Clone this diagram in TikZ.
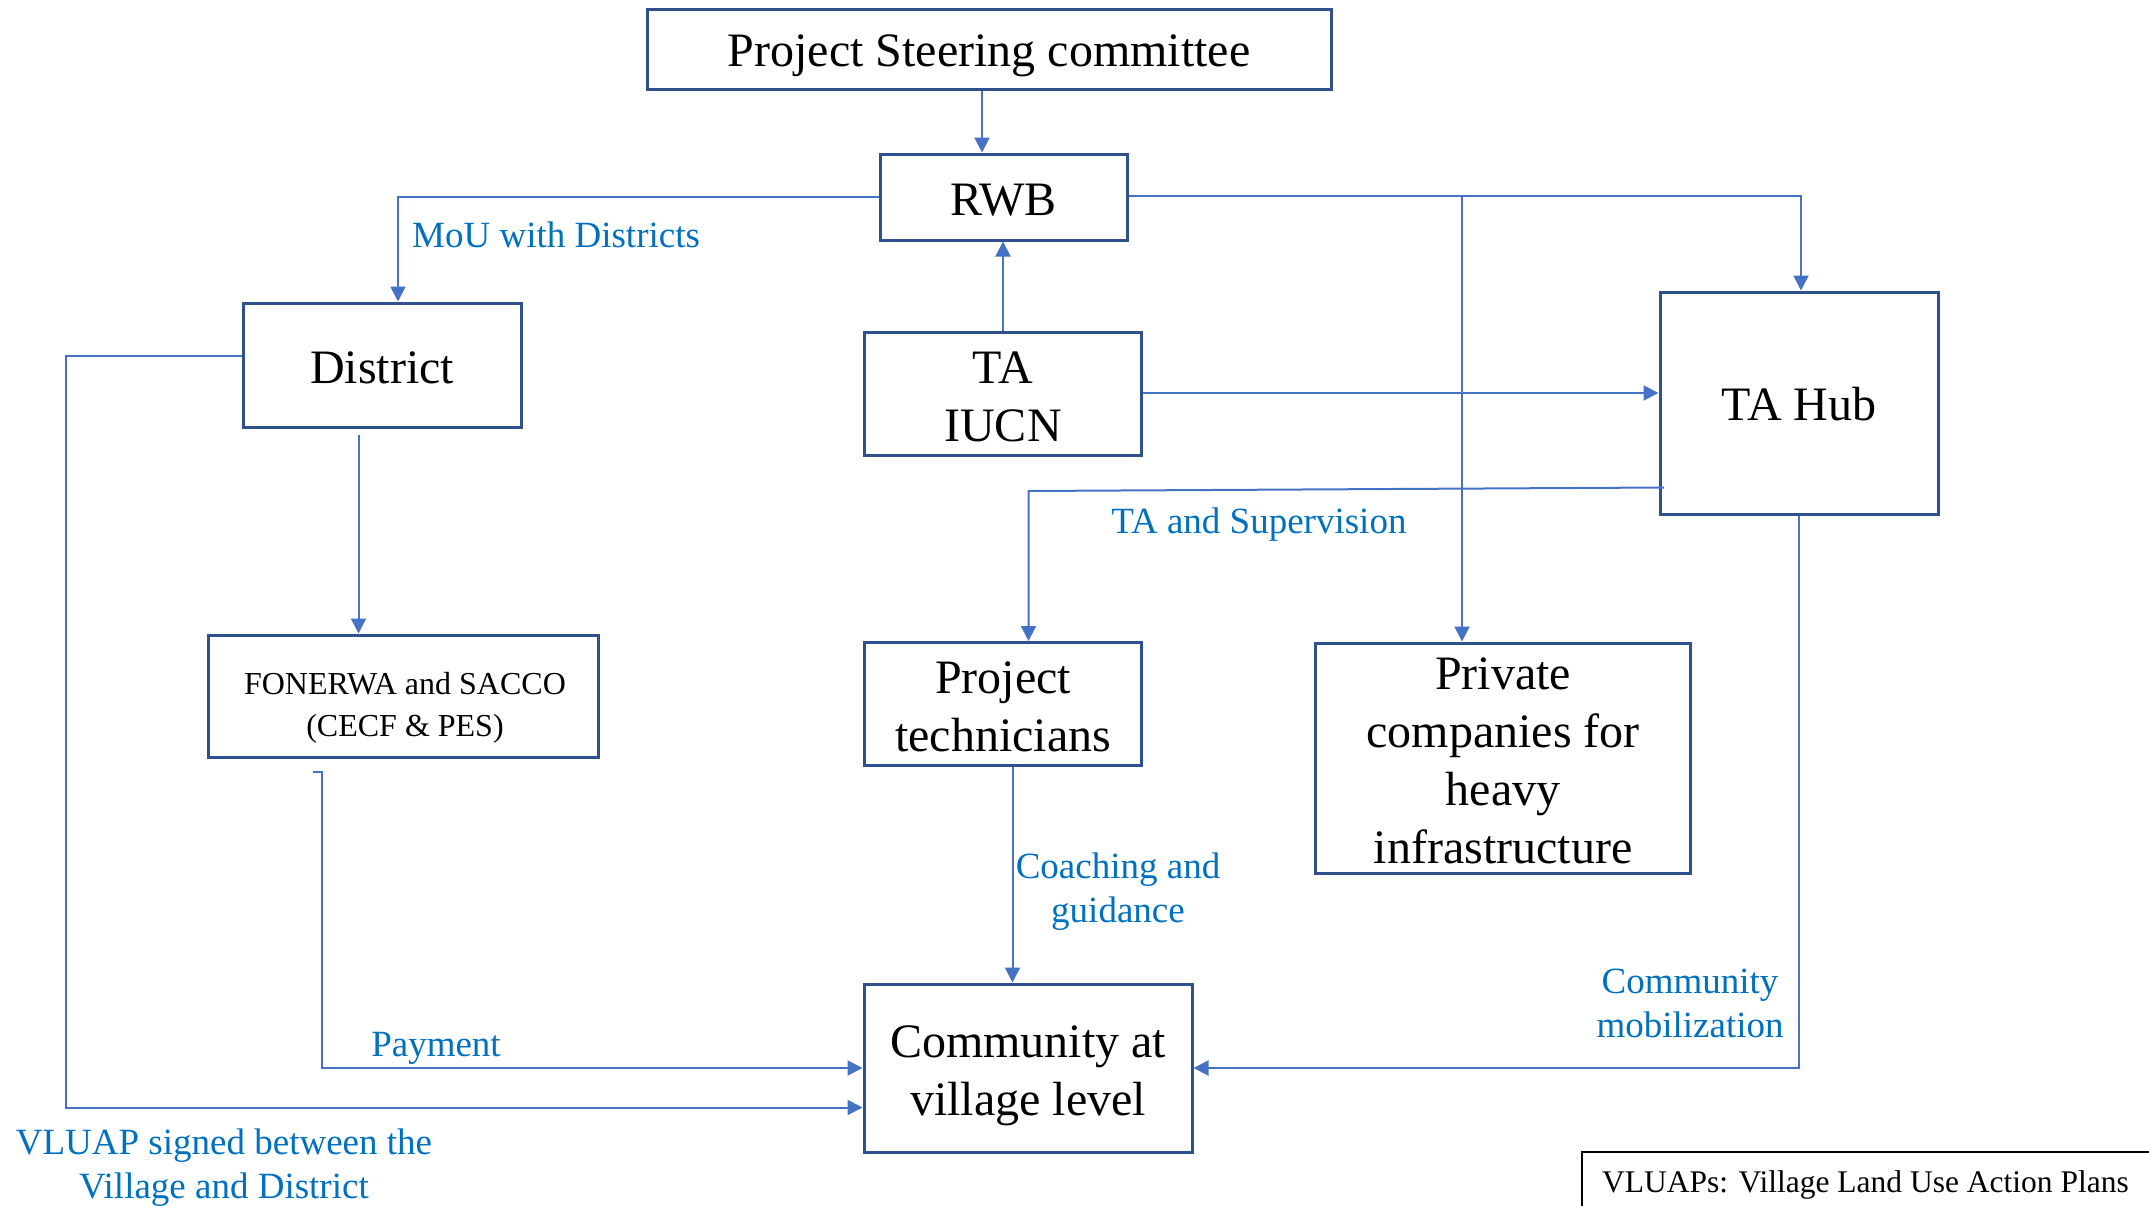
\documentclass[tikz,border=0pt]{standalone}
\usepackage{fontspec}
\setmainfont{Liberation Serif}
\usetikzlibrary{arrows.meta}
\definecolor{boxblue}{HTML}{2F528F}
\definecolor{linkblue}{HTML}{4472C4}
\definecolor{labelblue}{HTML}{0070C0}
\tikzset{
  box/.style={draw=boxblue, line width=3pt, inner sep=0pt},
  boxtext/.style={align=center, inner sep=0pt, font=\fontsize{48}{57.6}\selectfont},
  smalltext/.style={align=center, inner sep=0pt, font=\fontsize{32}{42}\selectfont},
  conn/.style={draw=linkblue, line width=2pt},
  arr/.style={conn, -{Triangle[width=15pt,length=15pt]}},
  lbl/.style={text=labelblue, align=center, inner sep=0pt,
    font=\fontsize{37}{44}\selectfont},
}
\begin{document}
\begin{tikzpicture}[x=1pt,y=-1pt]
\useasboundingbox (0,0) rectangle (2149,1205);

% boxes
\node[box, minimum width=684pt, minimum height=80pt,
  label={[boxtext, yshift=-7pt]center:{Project Steering committee}}] (steer) at (989,49) {};
\node[box, minimum width=247pt, minimum height=86pt,
  label={[boxtext, yshift=-3pt]center:{RWB}}] (rwb) at (1003.5,197) {};
\node[box, minimum width=278pt, minimum height=124pt,
  label={[boxtext, yshift=-3pt]center:{District}}] (district) at (382,365) {};
\node[box, minimum width=277pt, minimum height=123pt,
  label={[boxtext, yshift=-3pt]center:{TA\\IUCN}}] (taiucn) at (1003,394) {};
\node[box, minimum width=278pt, minimum height=222pt,
  label={[boxtext, yshift=-1.5pt]center:{TA Hub}}] (hub) at (1799,403) {};
\node[box, minimum width=390pt, minimum height=122pt,
  label={[smalltext, yshift=-12pt, xshift=2pt]center:{FONERWA and SACCO\\(CECF \& PES)}}] (fon) at (403,696) {};
\node[box, minimum width=277pt, minimum height=123pt,
  label={[boxtext, yshift=-3pt]center:{Project\\technicians}}] (tech) at (1003,704) {};
\node[box, minimum width=375pt, minimum height=230pt,
  label={[boxtext, font=\fontsize{48}{58}\selectfont, yshift=-3pt]center:{Private\\companies for\\heavy\\infrastructure}}] (priv) at (1503,758) {};
\node[box, minimum width=328pt, minimum height=168pt,
  label={[boxtext, yshift=-8pt]center:{Community at\\village level}}] (comm) at (1028,1068) {};

% legend
\draw[black, line width=1.5pt] (2160,1152) -- (1582,1152) -- (1582,1215);
\node[anchor=west, inner sep=0pt, font=\fontsize{31.5}{38}\selectfont] (legend) at (1602,1185) {VLUAPs: Village Land Use Action Plans};

% helper coordinates
\coordinate (xsr) at (982,0);
\coordinate (xmou) at (398,196.5);
\coordinate (xpriv) at (1462,196);
\coordinate (hs) at (1664,487.5);
\coordinate (ts) at (1028.5,491);
\coordinate (dfs) at (358.5,435);
\coordinate (vl) at (66,356);
\coordinate (vb) at (66,1107.5);
\coordinate (pt) at (313,772);
\coordinate (pc) at (321.5,772);
\coordinate (xct) at (1012.5,0);

% connectors
\draw[arr] (steer.south -| xsr) -- (rwb.north -| xsr);
\draw[arr] (rwb.west |- xmou) -- (xmou) -- (xmou |- district.north);
\draw[arr] (taiucn.north) -- (taiucn.north |- rwb.south);
\draw[arr] (rwb.east |- xpriv) -| ([xshift=2pt]hub.north);
\draw[arr] (xpriv) -- (xpriv |- priv.north);
\draw[arr] ([yshift=1pt]taiucn.east) -- ([yshift=1pt]taiucn.east -| hub.west);
\draw[arr] (hs) -- (ts) -- (ts |- tech.north);
\draw[arr] (dfs) -- (dfs |- fon.north);
\draw[arr] (district.west |- vl) -- (vl) -- (vb) -- (comm.west |- vb);
\draw[arr] (pt) -- (pc) -- (pc |- comm.west) -- (comm.west);
\draw[arr] (tech.south -| xct) -- (comm.north -| xct);
\draw[arr] (hub.south) |- (comm.east);

% labels
\node[lbl, anchor=west] (lmou) at (412,235) {MoU with Districts};
\node[lbl] (lsup) at (1259,525) {TA and Supervision};
\node[lbl] (lcoach) at (1118,892) {Coaching and\\guidance};
\node[lbl] (lmob) at (1690,1003) {Community\\mobilization};
\node[lbl] (lpay) at (436,1048) {Payment};
\node[lbl] (lvluap) at (224,1168) {VLUAP signed between the\\Village and District};
\end{tikzpicture}
\end{document}
